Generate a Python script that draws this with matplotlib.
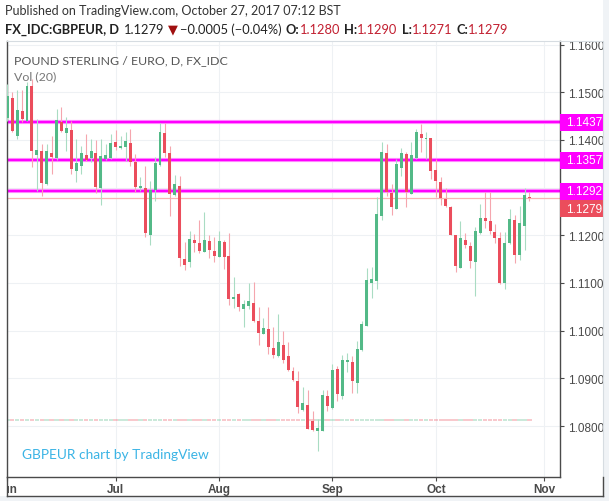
"""GBPEUR daily candles, Jun - Oct 2017, TradingView style snapshot."""
import matplotlib
matplotlib.use("Agg")
import matplotlib.pyplot as plt
import matplotlib.transforms as mtransforms
from matplotlib.patches import Rectangle
from matplotlib.lines import Line2D
import numpy as np
import pandas as pd

# daily OHLC, 2017-06-01 .. 2017-10-27 (business days)
OPEN = [1.1446, 1.1488, 1.1409, 1.1461, 1.1440, 1.1512, 1.1368, 1.1376, 1.1308, 1.1373,
        1.1362, 1.1438, 1.1414, 1.1421, 1.1335, 1.1346, 1.1368, 1.1363, 1.1373, 1.1299,
        1.1359, 1.1362, 1.1396, 1.1382, 1.1386, 1.1393, 1.1354, 1.1299, 1.1299, 1.1201,
        1.1296, 1.1348, 1.1414, 1.1373, 1.1285, 1.1304, 1.1150, 1.1143, 1.1190, 1.1184,
        1.1166, 1.1188, 1.1168, 1.1155, 1.1187, 1.1156, 1.1067, 1.1076, 1.1046, 1.1052,
        1.1058, 1.1020, 1.0994, 1.1004, 1.0964, 1.0946, 1.0970, 1.0948, 1.0916, 1.0895,
        1.0834, 1.0844, 1.0811, 1.0790, 1.0790, 1.0863, 1.0838, 1.0920, 1.0864, 1.0935,
        1.0934, 1.0890, 1.0960, 1.1010, 1.1101, 1.1105, 1.1241, 1.1373, 1.1289, 1.1256,
        1.1341, 1.1370, 1.1287, 1.1362, 1.1412, 1.1402, 1.1403, 1.1337, 1.1312, 1.1276,
        1.1259, 1.1200, 1.1132, 1.1190, 1.1178, 1.1145, 1.1205, 1.1236, 1.1229, 1.1206,
        1.1194, 1.1100, 1.1184, 1.1232, 1.1159, 1.1220, 1.1280]
HIGH = [1.1517, 1.1500, 1.1505, 1.1505, 1.1521, 1.1528, 1.1444, 1.1391, 1.1391, 1.1409,
        1.1465, 1.1470, 1.1449, 1.1440, 1.1402, 1.1388, 1.1412, 1.1402, 1.1399, 1.1402,
        1.1391, 1.1412, 1.1421, 1.1409, 1.1416, 1.1423, 1.1370, 1.1323, 1.1346, 1.1314,
        1.1364, 1.1435, 1.1435, 1.1387, 1.1326, 1.1325, 1.1187, 1.1209, 1.1203, 1.1232,
        1.1249, 1.1201, 1.1196, 1.1209, 1.1190, 1.1205, 1.1112, 1.1080, 1.1065, 1.1100,
        1.1103, 1.1050, 1.1027, 1.1049, 1.1008, 1.1035, 1.1000, 1.0977, 1.0923, 1.0916,
        1.0881, 1.0876, 1.0832, 1.0815, 1.0876, 1.0876, 1.0930, 1.0925, 1.0949, 1.0953,
        1.0948, 1.0979, 1.1020, 1.1131, 1.1133, 1.1280, 1.1395, 1.1391, 1.1308, 1.1361,
        1.1384, 1.1375, 1.1395, 1.1423, 1.1433, 1.1416, 1.1405, 1.1360, 1.1322, 1.1299,
        1.1262, 1.1201, 1.1229, 1.1205, 1.1185, 1.1218, 1.1266, 1.1291, 1.1291, 1.1224,
        1.1206, 1.1206, 1.1255, 1.1243, 1.1261, 1.1300, 1.1290]
LOW = [1.1440, 1.1416, 1.1402, 1.1438, 1.1440, 1.1344, 1.1293, 1.1283, 1.1306, 1.1329,
       1.1358, 1.1417, 1.1377, 1.1329, 1.1311, 1.1329, 1.1356, 1.1354, 1.1288, 1.1264,
       1.1358, 1.1360, 1.1379, 1.1381, 1.1356, 1.1346, 1.1290, 1.1293, 1.1197, 1.1180,
       1.1271, 1.1346, 1.1364, 1.1241, 1.1283, 1.1136, 1.1127, 1.1134, 1.1164, 1.1163,
       1.1164, 1.1152, 1.1143, 1.1154, 1.1129, 1.1054, 1.1048, 1.1041, 1.1008, 1.1046,
       1.1019, 1.0970, 1.0993, 1.0951, 1.0942, 1.0944, 1.0932, 1.0916, 1.0895, 1.0827,
       1.0832, 1.0793, 1.0790, 1.0747, 1.0789, 1.0832, 1.0836, 1.0853, 1.0857, 1.0914,
       1.0869, 1.0869, 1.0958, 1.1010, 1.1068, 1.1087, 1.1233, 1.1282, 1.1243, 1.1255,
       1.1325, 1.1260, 1.1287, 1.1361, 1.1374, 1.1360, 1.1317, 1.1280, 1.1264, 1.1259,
       1.1200, 1.1124, 1.1131, 1.1173, 1.1131, 1.1073, 1.1203, 1.1215, 1.1203, 1.1184,
       1.1098, 1.1087, 1.1182, 1.1142, 1.1149, 1.1170, 1.1271]
CLOSE = [1.1493, 1.1419, 1.1463, 1.1444, 1.1512, 1.1376, 1.1379, 1.1310, 1.1376, 1.1364,
         1.1442, 1.1419, 1.1425, 1.1339, 1.1351, 1.1373, 1.1358, 1.1377, 1.1301, 1.1366,
         1.1368, 1.1393, 1.1386, 1.1387, 1.1398, 1.1354, 1.1302, 1.1304, 1.1205, 1.1296,
         1.1352, 1.1417, 1.1373, 1.1287, 1.1308, 1.1152, 1.1138, 1.1192, 1.1184, 1.1168,
         1.1190, 1.1170, 1.1157, 1.1189, 1.1155, 1.1066, 1.1071, 1.1050, 1.1055, 1.1062,
         1.1021, 1.0995, 1.1006, 1.0966, 1.0950, 1.0976, 1.0939, 1.0918, 1.0897, 1.0839,
         1.0848, 1.0794, 1.0792, 1.0795, 1.0865, 1.0843, 1.0918, 1.0867, 1.0939, 1.0939,
         1.0895, 1.0962, 1.1014, 1.1106, 1.1108, 1.1244, 1.1374, 1.1291, 1.1260, 1.1350,
         1.1373, 1.1290, 1.1368, 1.1416, 1.1405, 1.1403, 1.1335, 1.1314, 1.1278, 1.1261,
         1.1201, 1.1135, 1.1194, 1.1180, 1.1147, 1.1208, 1.1236, 1.1231, 1.1208, 1.1195,
         1.1100, 1.1184, 1.1234, 1.1159, 1.1226, 1.1284, 1.1279]

LEVELS = [1.1437, 1.1357, 1.1292]          # drawn horizontal lines
PRICE_TICKS = [1.08, 1.09, 1.10, 1.11, 1.12, 1.13, 1.14, 1.15, 1.16]
MONTHS = ["Jun", "Jul", "Aug", "Sep", "Oct", "Nov"]
VOL_LEVEL = 1.0811                          # flat volume strip (no FX volume)

W, H = 609, 502
UP, DN = "#53B987", "#EB4D5C"
UP_WICK, DN_WICK = "#A9DCC3", "#F5A6AE"
MAGENTA = "#FF00FF"
GRID = "#EEF1F4"
FRAME = "#4A4A4A"


def fx(x):
    return x / W


def fy(y):
    return 1 - y / H


def main():
    dates = pd.bdate_range("2017-06-01", "2017-11-03")
    n = len(CLOSE)
    idx = np.arange(n)
    o, h, l, c = map(np.array, (OPEN, HIGH, LOW, CLOSE))
    up = c >= o

    fig = plt.figure(figsize=(W / 100, H / 100), dpi=100, facecolor="white")
    # outer light band (right + bottom) like the snapshot border
    fig.patches.append(Rectangle((fx(603), 0), 1 - fx(603), 1, transform=fig.transFigure,
                                 facecolor="#F0F3F6", edgecolor="none", zorder=0))
    fig.patches.append(Rectangle((0, 0), 1, fy(497), transform=fig.transFigure,
                                 facecolor="#F0F3F6", edgecolor="none", zorder=0))

    ax = fig.add_axes([fx(7), fy(478), fx(560) - fx(7), fy(42) - fy(478)])
    ax.set_facecolor("white")
    ax.set_xlim(-0.06, 112.2)
    ax.set_ylim(1.16 - 432.5 / 4770, 1.16 + 3.5 / 4770)

    # grid
    month_pos = []
    for m in range(6, 12):
        month_pos.append(int(np.argmax((dates.month == m))))
    for p in PRICE_TICKS:
        ax.axhline(p, color=GRID, lw=0.8, zorder=0)
    for p in month_pos:
        ax.axvline(p, color=GRID, lw=0.8, zorder=0)

    # volume strip
    ax.bar(idx, 0.0004, bottom=VOL_LEVEL, width=0.9,
           color=np.where(up, UP, DN), alpha=0.3, zorder=1)

    # horizontal levels
    for lv in LEVELS:
        ax.axhline(lv, color="#FF8CFF", lw=3.0, zorder=2)
        ax.axhline(lv, color=MAGENTA, lw=1.5, zorder=2)
    ax.axhline(CLOSE[-1], color="#F7B4B4", lw=0.9, zorder=2)

    # candles
    ax.vlines(idx, l, h, colors=np.where(up, UP_WICK, DN_WICK), lw=0.8, zorder=3)
    body = np.maximum(np.abs(c - o), 0.00012)
    ax.bar(idx, body, bottom=np.minimum(o, c), width=0.6,
           color=np.where(up, UP, DN), lw=0, zorder=4)

    # axes styling
    for s in ("left", "bottom", "right"):
        ax.spines[s].set_color(FRAME)
        ax.spines[s].set_linewidth(1.0)
    ax.spines["top"].set_color("#D6DCE1")
    ax.spines["top"].set_linewidth(0.8)
    ax.yaxis.tick_right()
    ax.set_yticks(PRICE_TICKS)
    # 1.1300 sits under the level labels on the scale, so it shows no text
    ax.set_yticklabels(["" if abs(p - 1.13) < 1e-9 else f"{p:.4f}" for p in PRICE_TICKS])
    ax.tick_params(axis="y", length=3, width=0.8, color=FRAME, pad=3,
                   labelsize=8.5, labelcolor="#4A4A4A")
    ax.set_xticks(month_pos)
    ax.set_xticklabels(MONTHS, fontweight="bold")
    ax.tick_params(axis="x", length=3, width=0.8, color=FRAME, pad=1.5,
                   labelsize=8.5, labelcolor="#4A4A4A")
    clip = mtransforms.Bbox([[7, 0], [W, H]])
    for lbl in ax.get_xticklabels():
        lbl.set_family("Liberation Sans")
        lbl.set_clip_box(clip)
        lbl.set_clip_on(True)
    for lbl in ax.get_yticklabels():
        lbl.set_family("Liberation Sans")

    # price labels on the right scale; last price stacks below the 1.1292 one
    tr = mtransforms.blended_transform_factory(ax.transAxes, ax.transData)
    bw = 43 / (560 - 7)
    bh = 17 / 4770
    labels = [(v, MAGENTA, 0) for v in LEVELS] + [(CLOSE[-1], DN, -11)]
    for lv, col, shift in labels:
        t = mtransforms.offset_copy(tr, fig=fig, x=0, y=shift, units="dots")
        ax.add_patch(Rectangle((1.0, lv - bh / 2), bw, bh, transform=t,
                               facecolor=col, edgecolor="none", clip_on=False, zorder=6))
        ax.text(1.0 + 6 / 553, lv, f"{lv:.4f}", transform=t, color="white",
                fontsize=8.5, family="Liberation Sans", va="center", ha="left",
                clip_on=False, zorder=7)

    # outer frame lines
    fig.add_artist(Line2D([fx(560), fx(603), fx(603)], [fy(42), fy(42), fy(497)],
                          color="#D6DCE1", lw=0.8))
    fig.add_artist(Line2D([fx(7), fx(603)], [fy(497), fy(497)], color=FRAME, lw=1.0))
    fig.add_artist(Line2D([fx(603), fx(603)], [fy(478), fy(497)], color=FRAME, lw=1.0))
    fig.add_artist(Line2D([fx(7), fx(7)], [fy(478), fy(497)], color=FRAME, lw=1.0))

    # in-chart legend
    ax.text(fx(15) - fx(7), 1 - (61 - 42) / 436, "POUND STERLING / EURO, D, FX_IDC",
            transform=ax.transAxes, fontsize=8.9, color="#555555", family="Lato",
            va="center", ha="left")
    ax.text(fx(15) - fx(7), 1 - (77 - 42) / 436, "Vol (20)", transform=ax.transAxes,
            fontsize=8.9, color="#777777", family="Lato", va="center", ha="left")
    fig.text(fx(22), fy(455), "GBPEUR chart by TradingView", fontsize=9.9,
             color="#3BB4E5", family="Lato", va="center", ha="left")

    # header
    fig.text(fx(5), fy(11), "Published on TradingView.com, October 27, 2017 07:12 BST",
             fontsize=9.0, color="#333333", family="Lato", va="center", ha="left")
    chg = CLOSE[-1] - CLOSE[-2]
    pct = chg / CLOSE[-2] * 100
    red = "#C21F30"
    pieces = [
        ("FX_IDC:GBPEUR, D", "bold", "#222222", 5),
        (f"{CLOSE[-1]:.4f}", "normal", "#222222", 4),
        ("\u25BC", "normal", "#A01010", 2),
        (f"\u2212{abs(chg):.4f} (\u2212{abs(pct):.2f}%)", "normal", "#222222", 4),
        ("O:", "bold", "#222222", 0),
        (f"{OPEN[-1]:.4f}", "normal", red, 4),
        ("H:", "bold", "#222222", 0),
        (f"{HIGH[-1]:.4f}", "normal", red, 4),
        ("L:", "bold", "#222222", 0),
        (f"{LOW[-1]:.4f}", "normal", red, 4),
        ("C:", "bold", "#222222", 0),
        (f"{CLOSE[-1]:.4f}", "normal", red, 0),
    ]
    renderer = fig.canvas.get_renderer()
    x = 5
    for s, wgt, col, gap in pieces:
        fam = ["Lato", "DejaVu Sans"] if s != "\u25BC" else "DejaVu Sans"
        t = fig.text(fx(x), fy(30), s, fontsize=9.3, fontweight=wgt, color=col,
                     family=fam, va="center", ha="left")
        x += t.get_window_extent(renderer).width + gap

    fig.savefig("out.png", dpi=100, facecolor=fig.get_facecolor())
    plt.close(fig)


if __name__ == "__main__":
    main()
